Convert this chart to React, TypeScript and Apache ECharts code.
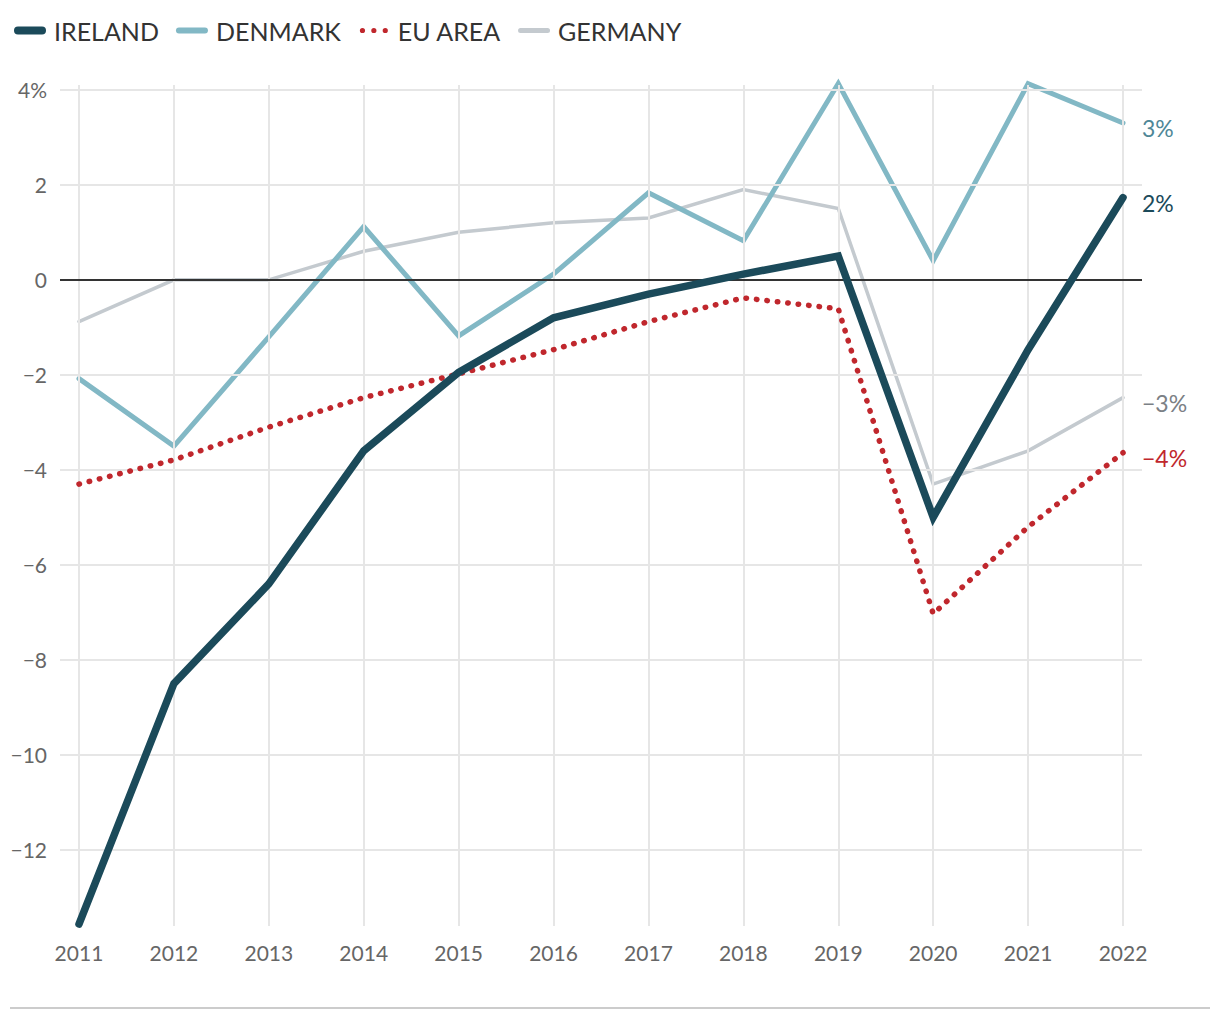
import React, { useEffect, useRef } from "react";
import * as echarts from "echarts";

const years = [2011, 2012, 2013, 2014, 2015, 2016, 2017, 2018, 2019, 2020, 2021, 2022];
const ireland = [-13.56, -8.5, -6.4, -3.6, -1.95, -0.8, -0.3, 0.12, 0.5, -5.0, -1.47, 1.73];
const denmark = [-2.08, -3.5, -1.2, 1.12, -1.18, 0.12, 1.83, 0.82, 4.13, 0.4, 4.13, 3.3];
const euArea = [-4.3, -3.79, -3.1, -2.48, -1.98, -1.47, -0.88, -0.38, -0.61, -7.03, -5.2, -3.64];
const germany = [-0.88, 0, 0, 0.6, 1.0, 1.2, 1.3, 1.9, 1.5, -4.3, -3.6, -2.48];
const yTicks = [4, 2, 0, -2, -4, -6, -8, -10, -12];
const yTickLabels = ["4%", "2", "0", "\u22122", "\u22124", "\u22126", "\u22128", "\u221210", "\u221212"];
const endLabels = { IRELAND: "2%", DENMARK: "3%", "EU AREA": "\u22124%", GERMANY: "\u22123%" };

const FONT = "Lato, 'Noto Sans', sans-serif";

// legend icons in a 32x8 box (bounds markers keep relative thickness)
const B = "M0,0L0,0M32,8L32,8";
const iconIreland = "path://M4,0L28,0A4,4 0 0 1 28,8L4,8A4,4 0 0 1 4,0Z";
const iconDenmark = "path://" + B + "M3,1L29,1A3,3 0 0 1 29,7L3,7A3,3 0 0 1 3,1Z";
const iconGermany = "path://" + B + "M2.5,1.5L29.5,1.5A2.5,2.5 0 0 1 29.5,6.5L2.5,6.5A2.5,2.5 0 0 1 2.5,1.5Z";
const iconEU =
  "path://" + B +
  "M2,4A2.6,2.6 0 1 0 7.2,4A2.6,2.6 0 1 0 2,4Z" +
  "M13.4,4A2.6,2.6 0 1 0 18.6,4A2.6,2.6 0 1 0 13.4,4Z" +
  "M24.8,4A2.6,2.6 0 1 0 30,4A2.6,2.6 0 1 0 24.8,4Z";

export default function App() {
  const ref = useRef<HTMLDivElement>(null);
  useEffect(() => {
    if (!ref.current) return;
    const chart = echarts.init(ref.current, null, { renderer: "svg" });
    const toData = (arr: number[]) => years.map((y, i) => [y, arr[i]]);
    const mkLine = (name: string, arr: number[], color: string, width: number, labelColor: string, z: number, type: any = "solid") => ({
      name,
      type: "line",
      data: toData(arr),
      symbol: "none",
      clip: false,
      z,
      lineStyle: { color, width, type, cap: "round", join: type === "solid" ? "miter" : "round" },
      itemStyle: { color },
      endLabel: {
        show: true,
        formatter: () => (endLabels as any)[name],
        color: labelColor,
        fontSize: 23,
        fontFamily: FONT,
        distance: 19,
        offset: [0, 5],
      },
      emphasis: { disabled: true },
    });
    const option: any = {
      animation: false,
      textStyle: { fontFamily: FONT },
      grid: { left: 60, right: 78, top: 85, bottom: 94 },
      legend: {
        data: [
          { name: "IRELAND", icon: iconIreland },
          { name: "DENMARK", icon: iconDenmark },
          { name: "EU AREA", icon: iconEU },
          { name: "GERMANY", icon: iconGermany },
        ],
        left: 9,
        top: 13,
        itemWidth: 32,
        itemHeight: 8,
        itemGap: 17,
        textStyle: { fontSize: 25, color: "#333", fontFamily: FONT, padding: [0, 0, 0, 3] },
        selectedMode: false,
      },
      xAxis: {
        type: "value",
        min: 2010.8,
        max: 2022.2,
        axisLine: { show: false },
        axisTick: { show: false },
        splitLine: { show: false },
        axisLabel: {
          customValues: years,
          formatter: (v: number) => String(v),
          fontSize: 21,
          color: "#666",
          margin: 16,
          fontFamily: FONT,
        },
      },
      yAxis: {
        type: "value",
        min: -13.6,
        max: 4.1,
        axisLine: { show: false },
        axisTick: { show: false },
        splitLine: { show: false },
        axisLabel: {
          customValues: yTicks,
          formatter: (v: number) => {
            const i = yTicks.indexOf(v);
            return i >= 0 ? yTickLabels[i] : "";
          },
          fontSize: 21,
          color: "#666",
          margin: 13,
          fontFamily: FONT,
        },
      },
      series: [
        {
          name: "grid",
          type: "line",
          data: [],
          z: 1,
          silent: true,
          markLine: {
            silent: true,
            symbol: "none",
            label: { show: false },
            lineStyle: { color: "#e6e6e6", width: 2, type: "solid" },
            data: [
              ...yTicks.filter((t) => t !== 0).map((t) => ({ yAxis: t })),
              ...years.map((y) => ({ xAxis: y })),
            ],
          },
        },
        {
          name: "zero",
          type: "line",
          data: [],
          z: 2,
          silent: true,
          markLine: {
            silent: true,
            symbol: "none",
            label: { show: false },
            lineStyle: { color: "#333", width: 2, type: "solid" },
            data: [{ yAxis: 0 }],
          },
        },
        mkLine("GERMANY", germany, "#c4cacf", 3.5, "#7b8085", 3),
        mkLine("DENMARK", denmark, "#82b8c5", 5, "#4f8797", 4),
        mkLine("EU AREA", euArea, "#c0272d", 5.5, "#c0272d", 5, [0.5, 10]),
        mkLine("IRELAND", ireland, "#1b4a5a", 7.5, "#1b4a5a", 6),
      ],
      graphic: [
        {
          type: "line",
          shape: { x1: 10, y1: 1008, x2: 1210, y2: 1008 },
          style: { stroke: "#cccccc", lineWidth: 2 },
          silent: true,
        },
      ],
    };
    chart.setOption(option);
    return () => chart.dispose();
  }, []);
  return (
    <div
      ref={ref}
      style={{ position: "fixed", left: 0, top: 0, width: 1220, height: 1020, background: "#fff" }}
    />
  );
}
